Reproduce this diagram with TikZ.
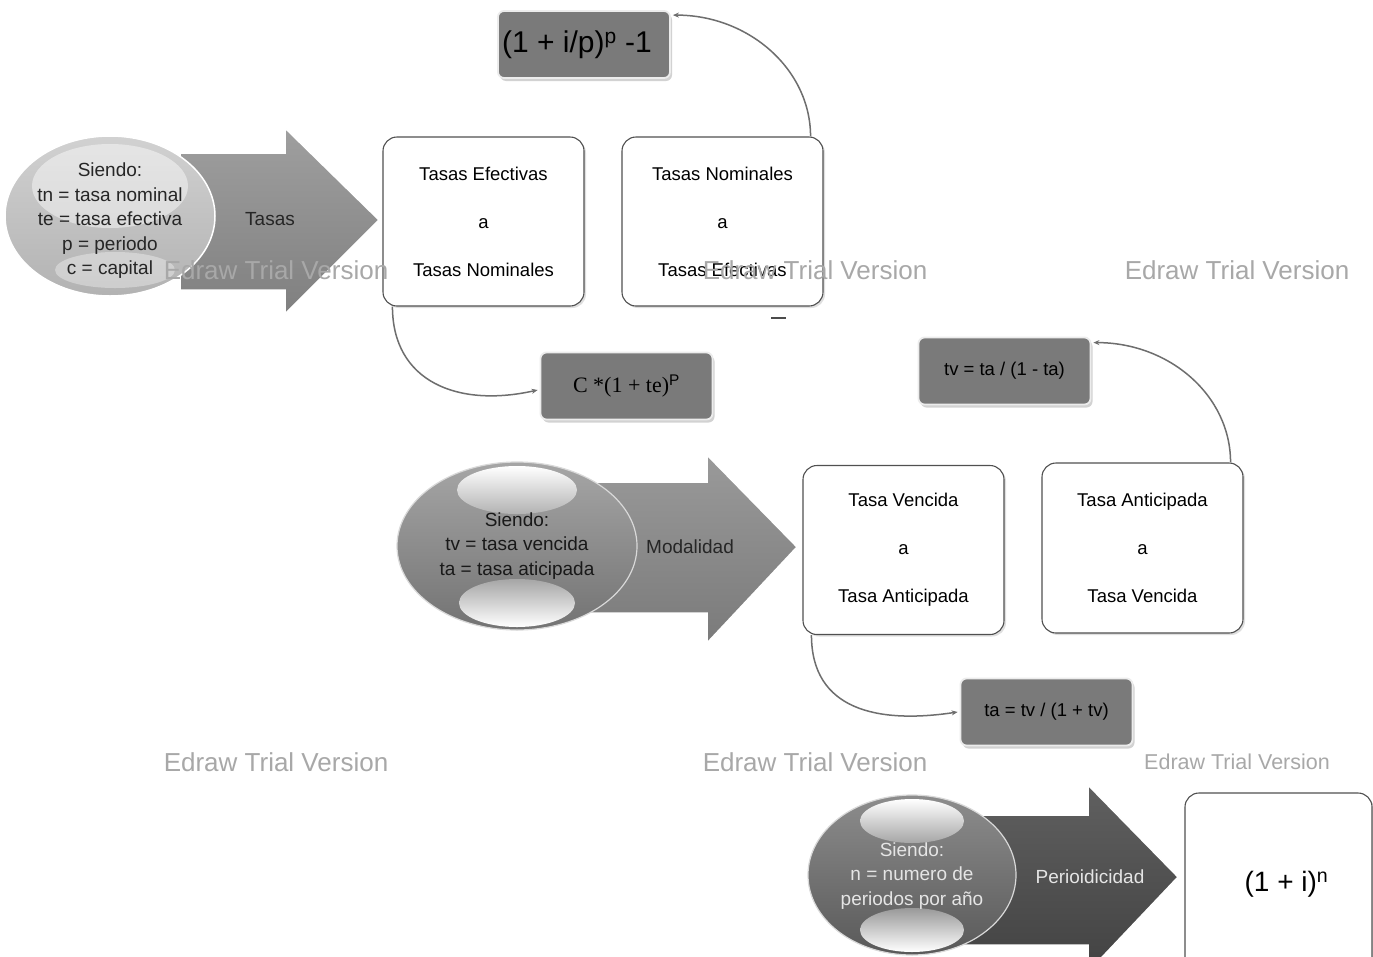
\documentclass[tikz,border=0pt]{standalone}
\usepackage{fontspec}
\setmainfont{Liberation Sans}
\newfontfamily\serifface{Liberation Serif}
\usetikzlibrary{shadows,arrows.meta}
\definecolor{boxline}{HTML}{505050}
\definecolor{fgray}{HTML}{7A7A7A}
\definecolor{arrA}{HTML}{8E8E8E}
\definecolor{arrB}{HTML}{888888}
\definecolor{arrC}{HTML}{4E4E4E}
\definecolor{wm}{HTML}{A8A8A8}
\definecolor{conncol}{HTML}{6E6E6E}
\begin{document}
\begin{tikzpicture}[x=1pt,y=-1pt,
  tbox/.style={draw=boxline, line width=1.1pt, rounded corners=14pt, fill=white,
    minimum width=201pt, minimum height=169pt, align=center, inner sep=0pt,
    font=\fontsize{18.5}{48}\selectfont,
    drop shadow={opacity=0.25, shadow xshift=2pt, shadow yshift=-2pt}},
  formbox/.style={fill=fgray, draw=white!85!gray, line width=1.8pt, rounded corners=6pt,
    minimum width=172pt, minimum height=67pt, inner sep=0pt,
    font=\fontsize{18.5}{22}\selectfont,
    drop shadow={opacity=0.35, shadow xshift=2pt, shadow yshift=-3pt}},
  conn/.style={draw=conncol, line width=1.5pt, -{Stealth[length=6pt,width=5pt]}},
  wmark/.style={text=wm, font=\fontsize{26}{30}\selectfont},
  elabel/.style={align=center, font=\fontsize{19}{24.5}\selectfont},
  alabel/.style={font=\fontsize{19}{22}\selectfont},
  bigarrow/.style={draw=white, line width=1.5pt}]
\useasboundingbox (0,0) rectangle (1373,956);
\clip (0,0) rectangle (1373,956);
\fill[white] (0,0) rectangle (1373,956);

% ---- big arrows ----
\shade[bigarrow, top color=arrA!85!white, bottom color=arrA!90!black]
  (180,153) -- (285,153) -- (285,128) -- (379,220) -- (285,314) -- (285,290) -- (180,290) -- cycle;
\shade[bigarrow, top color=arrB!85!white, bottom color=arrB!90!black]
  (560,482) -- (707,482) -- (707,455) -- (797,547) -- (707,643) -- (707,613) -- (560,613) -- cycle;
\shade[bigarrow, top color=arrC!90!white, bottom color=arrC!85!black]
  (960,815) -- (1088,815) -- (1088,785) -- (1178,877) -- (1088,972) -- (1088,945) -- (960,945) -- cycle;

% ---- ellipse 1 ----
\shade[top color=black!18, bottom color=black!30, draw=white, line width=1.5pt]
  (110,216) ellipse [x radius=105pt, y radius=80pt];
\fill[white, opacity=0.45] (110,186) ellipse [x radius=78pt, y radius=42pt];
\fill[white, opacity=0.35] (115,270) ellipse [x radius=60pt, y radius=18pt];
\node[elabel, text=black!85] (e1) at (110,221)
  {Siendo:\\tn = tasa nominal\\te = tasa efectiva\\p = periodo\\c = capital};

% ---- ellipse 2 ----
\shade[top color=black!35, middle color=black!72, bottom color=black!55, draw=white!70!gray, line width=1.2pt]
  (517,546) ellipse [x radius=120pt, y radius=84pt];
\shade[top color=white, bottom color=black!30] (517,490) ellipse [x radius=60pt, y radius=24pt];
\shade[top color=black!35, bottom color=white] (517,603) ellipse [x radius=58pt, y radius=24pt];
\node[elabel, text=black!90] (e2) at (517,546)
  {Siendo:\\tv = tasa vencida\\ta = tasa aticipada};

% ---- ellipse 3 ----
\shade[top color=black!45, middle color=black!78, bottom color=black!65, draw=white!70!gray, line width=1.2pt]
  (912,875) ellipse [x radius=104pt, y radius=80pt];
\shade[top color=white, bottom color=black!35] (912,821) ellipse [x radius=52pt, y radius=22pt];
\shade[top color=black!40, bottom color=white] (912,930) ellipse [x radius=52pt, y radius=22pt];
\node[elabel, text=white!90!black] (e3) at (912,876)
  {Siendo:\\n = numero de\\periodos por año};

% ---- arrow labels ----
\node[alabel, text=black!85] (l1) at (270,219) {Tasas};
\node[alabel, text=black!85] (l2) at (690,547) {Modalidad};
\node[alabel, text=white!90!black] (l3) at (1090,877) {Perioidicidad};

% ---- boxes ----
\node[tbox] (te) at (483.5,221.5) {Tasas Efectivas\\a\\Tasas Nominales};
\node[tbox] (tn) at (722.5,221.5) {Tasas Nominales\\a\\Tasas Efectivas};
\node[tbox] (tv) at (903.5,550) {Tasa Vencida\\a\\Tasa Anticipada};
\node[tbox, minimum height=170pt] (ta) at (1142.5,548) {Tasa Anticipada\\a\\Tasa Vencida};
\node[tbox, minimum width=187pt, minimum height=182pt, font=\fontsize{28}{32}\selectfont]
  (pw) at (1278.5,884) {\hspace*{16pt}(1 + i)\textsuperscript{n}};

% ---- formula boxes ----
\node[formbox, font=\fontsize{30}{34}\selectfont] (f1) at (584,44.5) {(1 + i/p)\textsuperscript{p} -1\hspace*{14pt}};
\node[formbox, font=\fontsize{22}{26}\selectfont\serifface] (cf) at (626.5,386) {C *(1 + te)\textsuperscript{\sffamily\fontspec{Liberation Sans}P}};
\node[formbox] (tvf) at (1004.5,371) {tv = ta / (1 - ta)};
\node[formbox] (taf) at (1046.5,712) {ta = tv / (1 + tv)};

% ---- connectors ----
\draw[conn] ([xshift=-13pt]tn.north east) .. controls +(0,-67) and +(76,0) .. ([xshift=2pt,yshift=-5pt]f1.north east);
\draw[conn] ([xshift=10pt]te.south west) .. controls +(0,75) and +(-80,18) .. ([xshift=-2pt,yshift=-4pt]cf.west);
\draw[conn] ([xshift=-13pt]ta.north east) .. controls +(0,-67) and +(76,0) .. ([xshift=2pt,yshift=-6pt]tvf.north east);
\draw[conn] ([xshift=9pt]tv.south west) .. controls +(0,75) and +(-80,12) .. ([xshift=-2pt]taf.west);

% stray dash
\draw[line width=2pt, black!70] (771,318) -- (786,318);

% ---- watermarks ----
\node[wmark] (w1) at (276,270) {Edraw Trial Version};
\node[wmark] (w2) at (815,270) {Edraw Trial Version};
\node[wmark] (w3) at (1237,270) {Edraw Trial Version};
\node[wmark] (w4) at (276,762) {Edraw Trial Version};
\node[wmark] (w5) at (815,762) {Edraw Trial Version};
\node[wmark, font=\fontsize{21.5}{25}\selectfont] (w6) at (1237,762) {Edraw Trial Version};
\end{tikzpicture}
\end{document}
